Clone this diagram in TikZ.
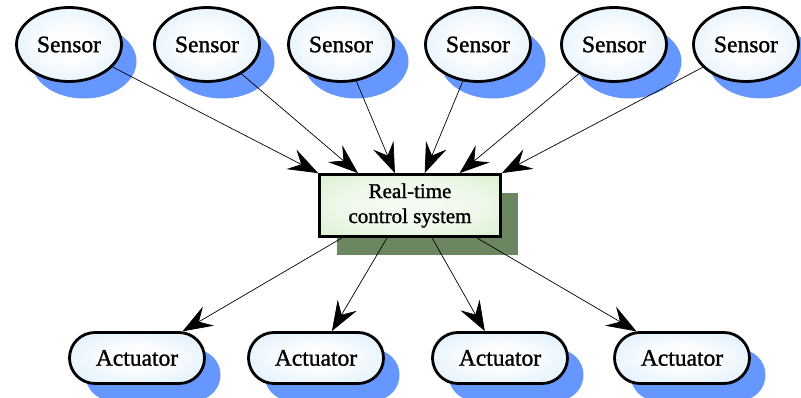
\documentclass[tikz,border=0pt]{standalone}
\usepackage{fontspec}
\setmainfont{Liberation Serif}
\newfontfamily\labelfont[FakeBold=1.2]{Liberation Serif}
\usetikzlibrary{arrows.meta,shadows,shapes.geometric,shapes.misc,calc}

\definecolor{shadeblue}{RGB}{102,150,255}
\definecolor{shadegreen}{RGB}{108,134,98}
\definecolor{paleblue}{RGB}{200,228,250}
\definecolor{palegreen}{RGB}{198,232,182}

\pgfdeclareradialshading{sensorfill}{\pgfpoint{0bp}{0bp}}{%
  color(0bp)=(white); color(12bp)=(white!92!paleblue); color(50bp)=(paleblue)}
\pgfdeclareradialshading{boxfill}{\pgfpoint{0bp}{0bp}}{%
  color(0bp)=(white!85!palegreen); color(20bp)=(white!70!palegreen); color(50bp)=(palegreen)}

\tikzset{
  sensor/.style={ellipse, draw=black, line width=2.8pt, shading=sensorfill,
    minimum width=105pt, minimum height=74pt, inner sep=0pt,
    font=\labelfont\fontsize{23.5}{27}\selectfont,
    drop shadow={shadow xshift=15pt, shadow yshift=-17pt, opacity=1, fill=shadeblue}},
  actuator/.style={rounded rectangle, draw=black, line width=2.8pt, shading=sensorfill,
    minimum width=135pt, minimum height=51pt, inner sep=0pt,
    font=\labelfont\fontsize{23.5}{27}\selectfont,
    drop shadow={shadow xshift=16pt, shadow yshift=-17pt, opacity=1, fill=shadeblue}},
  controlbox/.style={rectangle, draw=black, line width=2.8pt, shading=boxfill,
    minimum width=181pt, minimum height=62pt, inner sep=0pt, align=center,
    font=\labelfont\fontsize{21}{25}\selectfont,
    drop shadow={shadow xshift=17pt, shadow yshift=-19pt, opacity=1, fill=shadegreen}},
  arr/.style={line width=0.7pt, -{Stealth[length=30pt, width=22pt, inset=11pt]}}
}

\begin{document}
\begin{tikzpicture}[x=1pt,y=-1pt]
  \useasboundingbox (0,0) rectangle (801,398);

  % sensors
  \node[sensor] (s1) at (69,44.5)  {Sensor};
  \node[sensor] (s2) at (207,44.5) {Sensor};
  \node[sensor] (s3) at (341,44.5) {Sensor};
  \node[sensor] (s4) at (478,44.5) {Sensor};
  \node[sensor] (s5) at (614,44.5) {Sensor};
  \node[sensor] (s6) at (746,44.5) {Sensor};

  % controller
  \node[controlbox] (rt) at (410,205.5) {Real-time\\control system};

  % actuators
  \node[actuator] (a1) at (137,358) {Actuator};
  \node[actuator] (a2) at (316,358) {Actuator};
  \node[actuator] (a3) at (500,358) {Actuator};
  \node[actuator] (a4) at (682,358) {Actuator};

  % entry points on the top edge of the controller
  \coordinate (t1) at (rt.north west);
  \coordinate (t2) at ($(rt.north west)!0.217!(rt.north east)$);
  \coordinate (t3) at ($(rt.north west)!0.418!(rt.north east)$);
  \coordinate (t4) at ($(rt.north west)!0.58!(rt.north east)$);
  \coordinate (t5) at ($(rt.north west)!0.77!(rt.north east)$);
  \coordinate (t6) at (rt.north east);

  % exit points on the bottom edge of the controller
  \coordinate (b1) at ($(rt.south west)!0.13!(rt.south east)$);
  \coordinate (b2) at ($(rt.south west)!0.375!(rt.south east)$);
  \coordinate (b3) at ($(rt.south west)!0.62!(rt.south east)$);
  \coordinate (b4) at ($(rt.south west)!0.864!(rt.south east)$);

  \foreach \i in {1,...,6} \draw[arr] (s\i) -- (t\i);
  \foreach \i in {1,...,4} \draw[arr] (b\i) -- (a\i);
\end{tikzpicture}
\end{document}
